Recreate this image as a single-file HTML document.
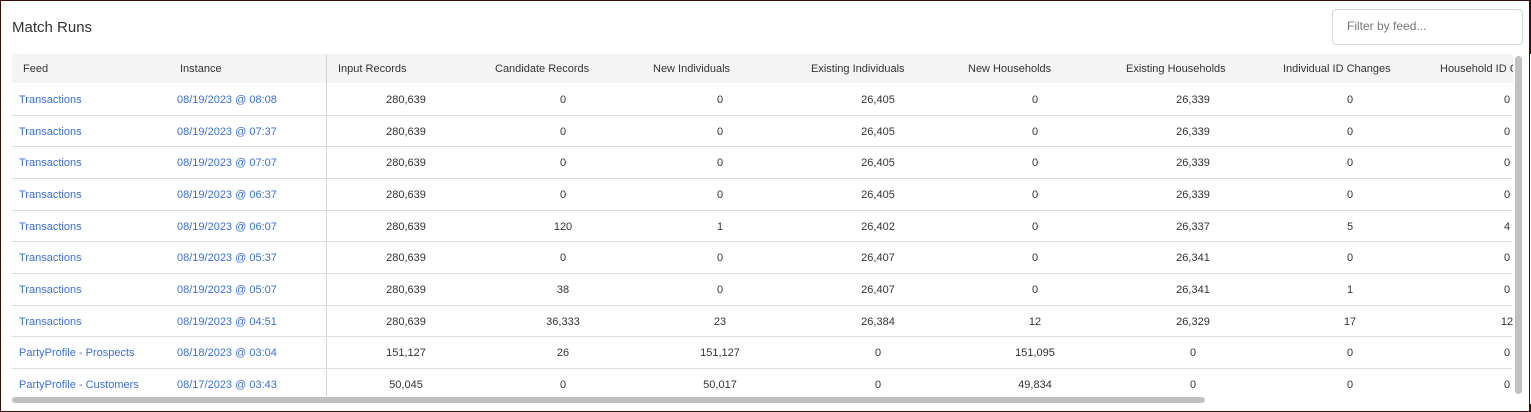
<!DOCTYPE html>
<html><head><style>
html,body{margin:0;padding:0;}
body{width:1531px;height:412px;position:relative;overflow:hidden;background:#fff;font-family:"Liberation Sans",sans-serif;}
.frame{position:absolute;left:0;top:0;width:1529px;height:410px;border:1px solid #3a0d0d;}
.t{position:absolute;font-size:11px;color:#333;white-space:nowrap;line-height:14px;}
.c{transform:translateX(-50%);}
.l{color:#3b6fd6;}
.h{color:#333;}
.row{position:absolute;left:12px;width:1500px;height:1px;background:#dedede;}
</style></head><body>
<div class="frame"></div>
<div class="t" style="left:12px;top:19px;font-size:15px;color:#333;line-height:18px">Match Runs</div>
<div style="position:absolute;left:1332px;top:9px;width:189px;height:34px;border:1px solid #d6d6d6;border-radius:4px;"></div>
<div class="t" style="left:1347px;top:19px;font-size:12px;color:#777">Filter by feed...</div>
<div style="position:absolute;left:12px;top:54px;width:1502px;height:29px;background:#f4f4f4;"></div>
<div style="position:absolute;left:326px;top:54px;width:1px;height:342px;background:#d4d4d4;"></div>
<div style="position:absolute;left:12px;top:397px;width:1193px;height:6px;background:#c1c1c1;border-radius:3px;"></div>
<div id="c"></div>
<script>
var H=["Feed","Instance","Input Records","Candidate Records","New Individuals","Existing Individuals","New Households","Existing Households","Individual ID Changes","Household ID Changes"];
var HX=[23,180,338,495,653,811,968,1126,1283,1440];
var VX=[406,563,720,878,1035,1193,1350,1507];
var R=[
["Transactions","08/19/2023 @ 08:08","280,639","0","0","26,405","0","26,339","0","0"],
["Transactions","08/19/2023 @ 07:37","280,639","0","0","26,405","0","26,339","0","0"],
["Transactions","08/19/2023 @ 07:07","280,639","0","0","26,405","0","26,339","0","0"],
["Transactions","08/19/2023 @ 06:37","280,639","0","0","26,405","0","26,339","0","0"],
["Transactions","08/19/2023 @ 06:07","280,639","120","1","26,402","0","26,337","5","4"],
["Transactions","08/19/2023 @ 05:37","280,639","0","0","26,407","0","26,341","0","0"],
["Transactions","08/19/2023 @ 05:07","280,639","38","0","26,407","0","26,341","1","0"],
["Transactions","08/19/2023 @ 04:51","280,639","36,333","23","26,384","12","26,329","17","12"],
["PartyProfile - Prospects","08/18/2023 @ 03:04","151,127","26","151,127","0","151,095","0","0","0"],
["PartyProfile - Customers","08/17/2023 @ 03:43","50,045","0","50,017","0","49,834","0","0","0"]];
var s="";
for(var i=0;i<H.length;i++)s+='<div class="t h" style="left:'+HX[i]+'px;top:62px">'+H[i]+'</div>';
for(var r=0;r<R.length;r++){var y=93+r*31.67;
 if(r>0)s+='<div class="row" style="top:'+(Math.round(y-10))+'px"></div>';
 s+='<div class="t l" style="left:19px;top:'+y+'px">'+R[r][0]+'</div>';
 s+='<div class="t l" style="left:177px;top:'+y+'px">'+R[r][1]+'</div>';
 for(var j=2;j<10;j++)s+='<div class="t c" style="left:'+VX[j-2]+'px;top:'+y+'px">'+R[r][j]+'</div>';}
s+='<div style="position:absolute;left:1513px;top:54px;width:18px;height:350px;background:#fff"></div><div style="position:absolute;left:1515px;top:56px;width:7px;height:338px;background:#c1c1c1;border-radius:4px;"></div><div style="position:absolute;left:1529px;top:0;width:1px;height:412px;background:#3a0d0d"></div>';
document.getElementById("c").innerHTML=s;
</script>
</body></html>
